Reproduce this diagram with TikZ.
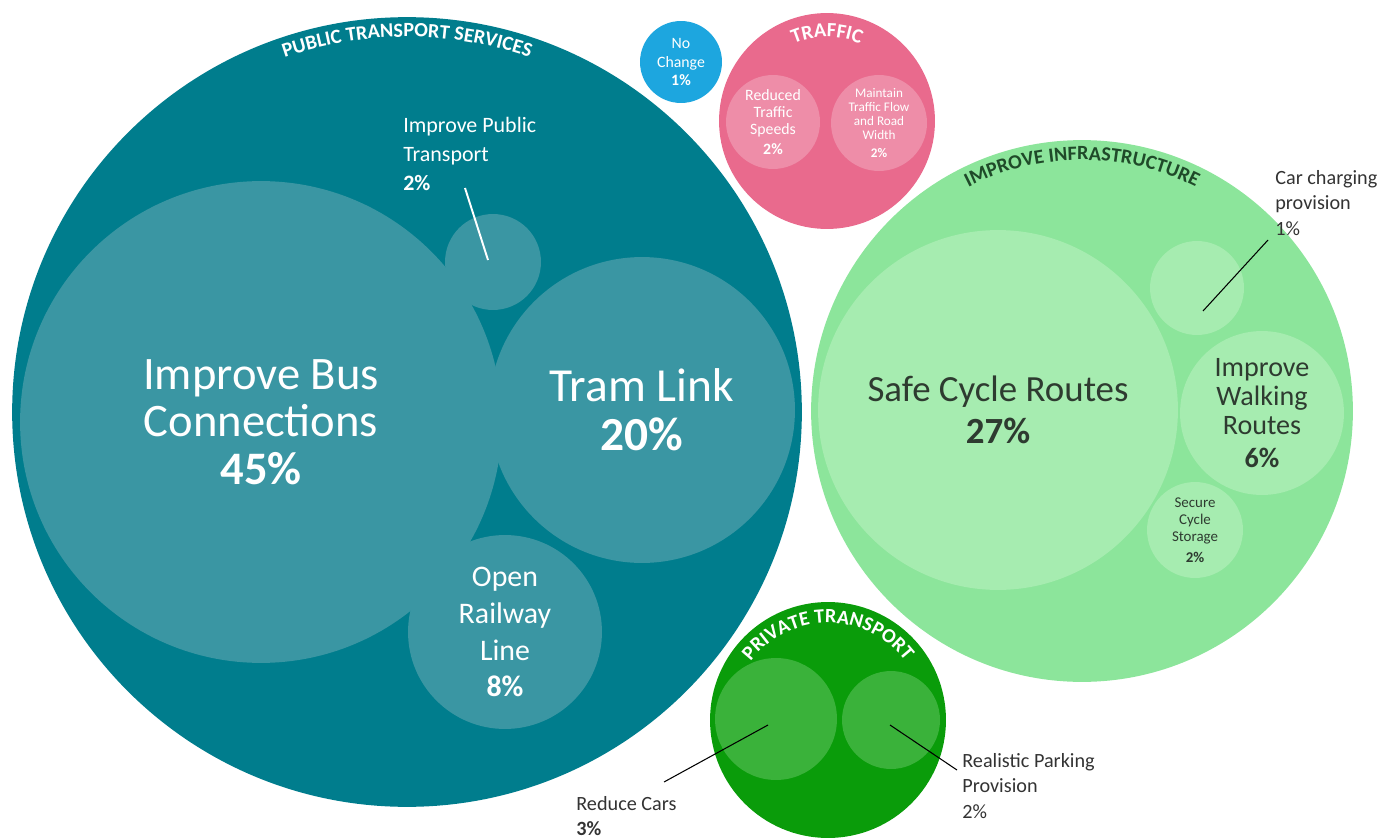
\documentclass[tikz,border=0pt]{standalone}
\usepackage{fontspec}
\setmainfont{Carlito}
\usepackage{tikz}
\usetikzlibrary{positioning, calc, decorations.text}
\definecolor{teal0}{HTML}{007D8D}
\definecolor{tealin}{HTML}{3A96A3}
\definecolor{pink0}{HTML}{E96A8D}
\definecolor{pinkin}{HTML}{EE8DA8}
\definecolor{blue0}{HTML}{1DA6DF}
\definecolor{grn0}{HTML}{8CE59B}
\definecolor{grnin}{HTML}{A6ECB0}
\definecolor{grntxt}{HTML}{2E3B30}
\definecolor{grntitle}{HTML}{1F4A29}
\definecolor{dgrn0}{HTML}{0A9C0A}
\definecolor{dgrnin}{HTML}{3AB23A}
\newcommand\fsz[2]{\fontsize{#1}{#2}\selectfont}
\newcommand\titlefont{\fontsize{11.5}{11.5}\selectfont\bfseries}
\tikzset{
    bubble/.style = {circle, inner sep=0pt, draw=none, align=center,
        minimum size=#1*0.04cm},
    ptin/.style = {bubble=#1, fill=tealin, text=white},
    trin/.style = {bubble=#1, fill=pinkin, text=white},
    infin/.style = {bubble=#1, fill=grnin, text=grntxt},
    prin/.style = {bubble=#1, fill=dgrnin},
    lab/.style = {align=left, inner sep=0pt, anchor=north west,
        font=\fsz{11.5}{14.5}, text=black!80},
    blead/.style = {draw=black, line width=0.6pt},
    wlead/.style = {draw=white, line width=1.1pt},
}

\begin{document}
\begin{tikzpicture}[x=0.02cm, y=-0.02cm]
    \useasboundingbox (0,0) rectangle (1386,838);
    % public transport services
    \node [bubble=395, fill=teal0] (pub) at (407,412) {};
    \node [ptin=241, font=\fsz{26.5}{27}] (bus) at (261,422) {Improve Bus\\Connections\\\textbf{45\%}};
    \node [ptin=153, font=\fsz{27}{28}] (tram) at (642,410) {Tram Link\\\textbf{20\%}};
    \node [ptin=97, font=\fsz{17}{21}] (rail) at (505,632) {Open\\Railway\\Line\\\textbf{8\%}};
    \node [ptin=48] (ipt) at (493,262) {};
    \path [decorate, decoration={text along path, text align=center,
        text={|\titlefont\color{white}|PUBLIC TRANSPORT SERVICES}}]
        ($(pub)+(200:375)$) arc [start angle=200, end angle=340, radius=375];
    % traffic
    \node [bubble=41, fill=blue0, text=white, font=\fsz{9}{10.5}] (nochg) at (681,62) {No\\Change\\\textbf{1\%}};
    \node [bubble=108, fill=pink0] (traf) at (827,121) {};
    \node [trin=47, font=\fsz{9}{9.7}] (speed) at (773,122) {Reduced\\Traffic\\Speeds\\[2pt]\textbf{2\%}};
    \node [trin=48, font=\fsz{7.5}{8}] (flow) at (879,123) {Maintain\\Traffic Flow\\and Road\\Width\\[2pt]\textbf{2\%}};
    \path [decorate, decoration={text along path, text align=center,
        text={|\titlefont\color{white}|TRAFFIC}}]
        ($(traf)+(230:84)$) arc [start angle=230, end angle=310, radius=84];
    % improve infrastructure
    \node [bubble=271, fill=grn0] (infra) at (1082,411) {};
    \node [infin=180, font=\fsz{21}{24}] (cycle) at (998,410) {Safe Cycle Routes\\\textbf{27\%}};
    \node [infin=47] (charge) at (1197,288) {};
    \node [infin=82, font=\fsz{16}{16.5}] (walk) at (1262,413) {Improve\\Walking\\Routes\\[2pt]\textbf{6\%}};
    \node [infin=48, font=\fsz{8.5}{9.7}] (store) at (1195,530) {Secure\\Cycle\\Storage\\[2pt]\textbf{2\%}};
    \path [decorate, decoration={text along path, text align=center,
        text={|\titlefont\color{grntitle}|IMPROVE INFRASTRUCTURE}}]
        ($(infra)+(215:251)$) arc [start angle=215, end angle=325, radius=251];
    % private transport
    \node [bubble=118, fill=dgrn0] (priv) at (828,720) {};
    \node [prin=61] (cars) at (776,719) {};
    \node [prin=49] (park) at (891,720) {};
    \path [decorate, decoration={text along path, text align=center,
        text={|\titlefont\color{white}|PRIVATE TRANSPORT}}]
        ($(priv)+(190:97)$) arc [start angle=190, end angle=350, radius=97];
    % labels
    \node [lab, text=white, font=\fsz{12.5}{16.5}] (iptlab) at (403,117) {Improve Public\\Transport\\\textbf{2\%}};
    \node [lab] (chglab) at (1275,170) {Car charging\\provision\\1\%};
    \node [lab] (carslab) at (576,796) {Reduce Cars\\\textbf{3\%}};
    \node [lab] (parklab) at (962,753) {Realistic Parking\\Provision\\2\%};
    \coordinate (iptpin) at (465,188);
    \coordinate (iptend) at (488,260);
    \coordinate (chgpin) at (1268,240);
    \coordinate (chgend) at (1203,311);
    \coordinate (carspin) at (664,782);
    \coordinate (carsend) at (768,725);
    \coordinate (parkpin) at (957,770);
    \coordinate (parkend) at (890,725);
    \draw [wlead] (iptpin) -- (iptend);
    \draw [blead] (chgpin) -- (chgend);
    \draw [blead] (carspin) -- (carsend);
    \draw [blead] (parkpin) -- (parkend);
\end{tikzpicture}
\end{document}
